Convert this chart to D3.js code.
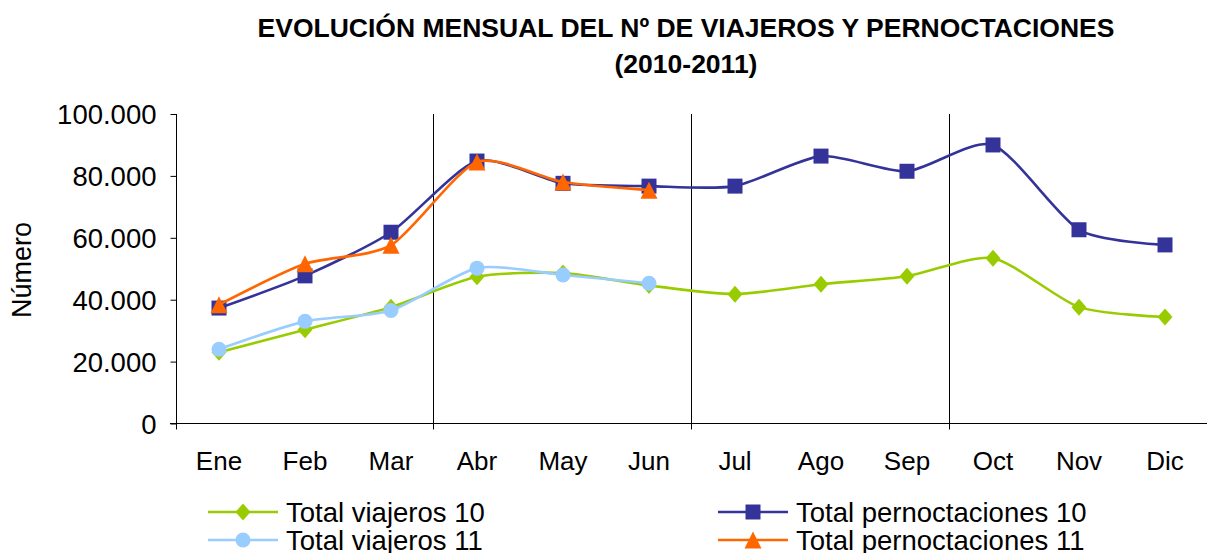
<!DOCTYPE html>
<html>
<head>
<meta charset="utf-8">
<script src="https://cdn.jsdelivr.net/npm/d3@7"></script>
<style>
	body { margin: 0; background: #fff; }
	svg text { font-family: "Liberation Sans", Arial, sans-serif; fill: #000; }
</style>
</head>
<body>
<div id="chart"></div>
<script>
//monthly travellers / overnight stays chart

var months = ["Ene", "Feb", "Mar", "Abr", "May", "Jun", "Jul", "Ago", "Sep", "Oct", "Nov", "Dic"];
var yTicks = [0, 20000, 40000, 60000, 80000, 100000];

var viajeros10 = [23000, 30300, 37600, 47400, 48600, 44600, 41800, 45000, 47600, 53400, 37600, 34400];
var viajeros11 = [24000, 33000, 36500, 50200, 48000, 45300];
var pernoc10 = [37300, 47700, 61800, 84800, 77600, 76700, 76700, 86400, 81500, 90000, 62600, 57700];
var pernoc11 = [38400, 51600, 57600, 84500, 78000, 75400];

var seriesNames = ["Total viajeros 10", "Total viajeros 11", "Total pernoctaciones 10", "Total pernoctaciones 11"];

var width = 1207, height = 553;
var margin = { top: 114, right: 0, bottom: 129, left: 176 };

var svg = d3.select('#chart').append('svg')
	.attr('width', width)
	.attr('height', height);

//title
var title = svg.append('text')
	.attr('text-anchor', 'middle')
	.style('font-size', '26.5px')
	.style('font-weight', 'bold');
title.append('tspan').attr('x', 686).attr('y', 37)
	.text('EVOLUCIÓN MENSUAL DEL Nº DE VIAJEROS Y PERNOCTACIONES');
title.append('tspan').attr('x', 686).attr('y', 73)
	.text('(2010-2011)');

//scales
var xScale = d3.scaleBand()
	.domain(months)
	.range([margin.left, margin.left + 12 * 86]);

var yScale = d3.scaleLinear()
	.domain([0, 100000])
	.range([height - margin.bottom - 0.5, margin.top]);

var fmt = function(d) { return d3.format(',')(d).replace(/,/g, '.'); };

//y axis
var yAxis = svg.append('g')
	.attr('transform', 'translate(' + (margin.left + 0.5) + ',0)')
	.call(d3.axisLeft(yScale).tickValues(yTicks).tickSize(6).tickPadding(14).tickFormat(fmt));
yAxis.select('.domain').attr('d', 'M0,' + margin.top + 'V' + (yScale(0) + 6));
yAxis.selectAll('line').attr('stroke', '#000');
yAxis.selectAll('text').style('font-size', '27.5px').attr('dy', '0.35em');

svg.append('text')
	.attr('transform', 'translate(31,270) rotate(-90)')
	.attr('text-anchor', 'middle')
	.style('font-size', '27px')
	.text('Número');

//quarter separators and x axis
var quarterX = [3, 6, 9].map(function(i) { return Math.round(xScale(months[i])) - 0.5; });
svg.selectAll('.sep')
	.data(quarterX)
	.enter().append('line')
	.attr('class', 'sep')
	.attr('x1', function(d) { return d; })
	.attr('x2', function(d) { return d; })
	.attr('y1', margin.top)
	.attr('y2', yScale(0) + 6)
	.attr('stroke', '#000')
	.attr('stroke-width', 1);

svg.append('line')
	.attr('x1', margin.left - 6)
	.attr('x2', width)
	.attr('y1', yScale(0))
	.attr('y2', yScale(0))
	.attr('stroke', '#000');

svg.selectAll('.xlab')
	.data(months)
	.enter().append('text')
	.attr('class', 'xlab')
	.attr('x', function(d) { return xScale(d) + xScale.bandwidth() / 2; })
	.attr('y', 470)
	.attr('text-anchor', 'middle')
	.style('font-size', '26px')
	.text(function(d) { return d; });

//series, drawn in this order
var series = [
	{ name: seriesNames[0], values: viajeros10, color: '#99CC00', marker: 'diamond' },
	{ name: seriesNames[2], values: pernoc10, color: '#333399', marker: 'square' },
	{ name: seriesNames[1], values: viajeros11, color: '#99CCFF', marker: 'circle' },
	{ name: seriesNames[3], values: pernoc11, color: '#FF6600', marker: 'triangle' }
];

var cx = function(d, i) { return xScale(months[i]) + xScale.bandwidth() / 2; };

var line = d3.line()
	.x(cx)
	.y(function(d) { return yScale(d); })
	.curve(d3.curveCardinal.tension(0.3));

function markerPath(type) {
	if (type == 'diamond') return 'M0,-8.5L7.5,0L0,8.5L-7.5,0Z';
	if (type == 'square') return 'M-7.5,-7.5H7.5V7.5H-7.5Z';
	if (type == 'triangle') return 'M0,-8.5L8.5,8.5L-8.5,8.5Z';
	return 'M-7.5,0A7.5,7.5 0 1,0 7.5,0A7.5,7.5 0 1,0 -7.5,0Z';
}

var plot = svg.append('g');
series.forEach(function(s) {
	plot.append('path')
		.datum(s.values)
		.attr('d', line)
		.attr('fill', 'none')
		.attr('stroke', s.color)
		.attr('stroke-width', 2.6);
	plot.selectAll(null)
		.data(s.values)
		.enter().append('path')
		.attr('transform', function(d, i) { return 'translate(' + cx(d, i) + ',' + yScale(d) + ')'; })
		.attr('d', markerPath(s.marker))
		.attr('fill', s.color);
});

//legend: viajeros on the left, pernoctaciones on the right
var legendItems = [
	{ s: series[0], x: 208, y: 512 },
	{ s: series[1], x: 718, y: 512 },
	{ s: series[2], x: 208, y: 540 },
	{ s: series[3], x: 718, y: 540 }
];
var legend = svg.selectAll('.legend')
	.data(legendItems)
	.enter().append('g')
	.attr('class', 'legend')
	.attr('transform', function(d) { return 'translate(' + d.x + ',' + d.y + ')'; });
legend.append('line')
	.attr('x1', 0).attr('x2', 70)
	.attr('stroke', function(d) { return d.s.color; })
	.attr('stroke-width', 2.6);
legend.append('path')
	.attr('transform', 'translate(35,0)')
	.attr('d', function(d) { return markerPath(d.s.marker); })
	.attr('fill', function(d) { return d.s.color; });
legend.append('text')
	.attr('x', 78)
	.attr('dy', '0.35em')
	.style('font-size', '27.5px')
	.text(function(d) { return d.s.name; });
</script>
</body>
</html>
